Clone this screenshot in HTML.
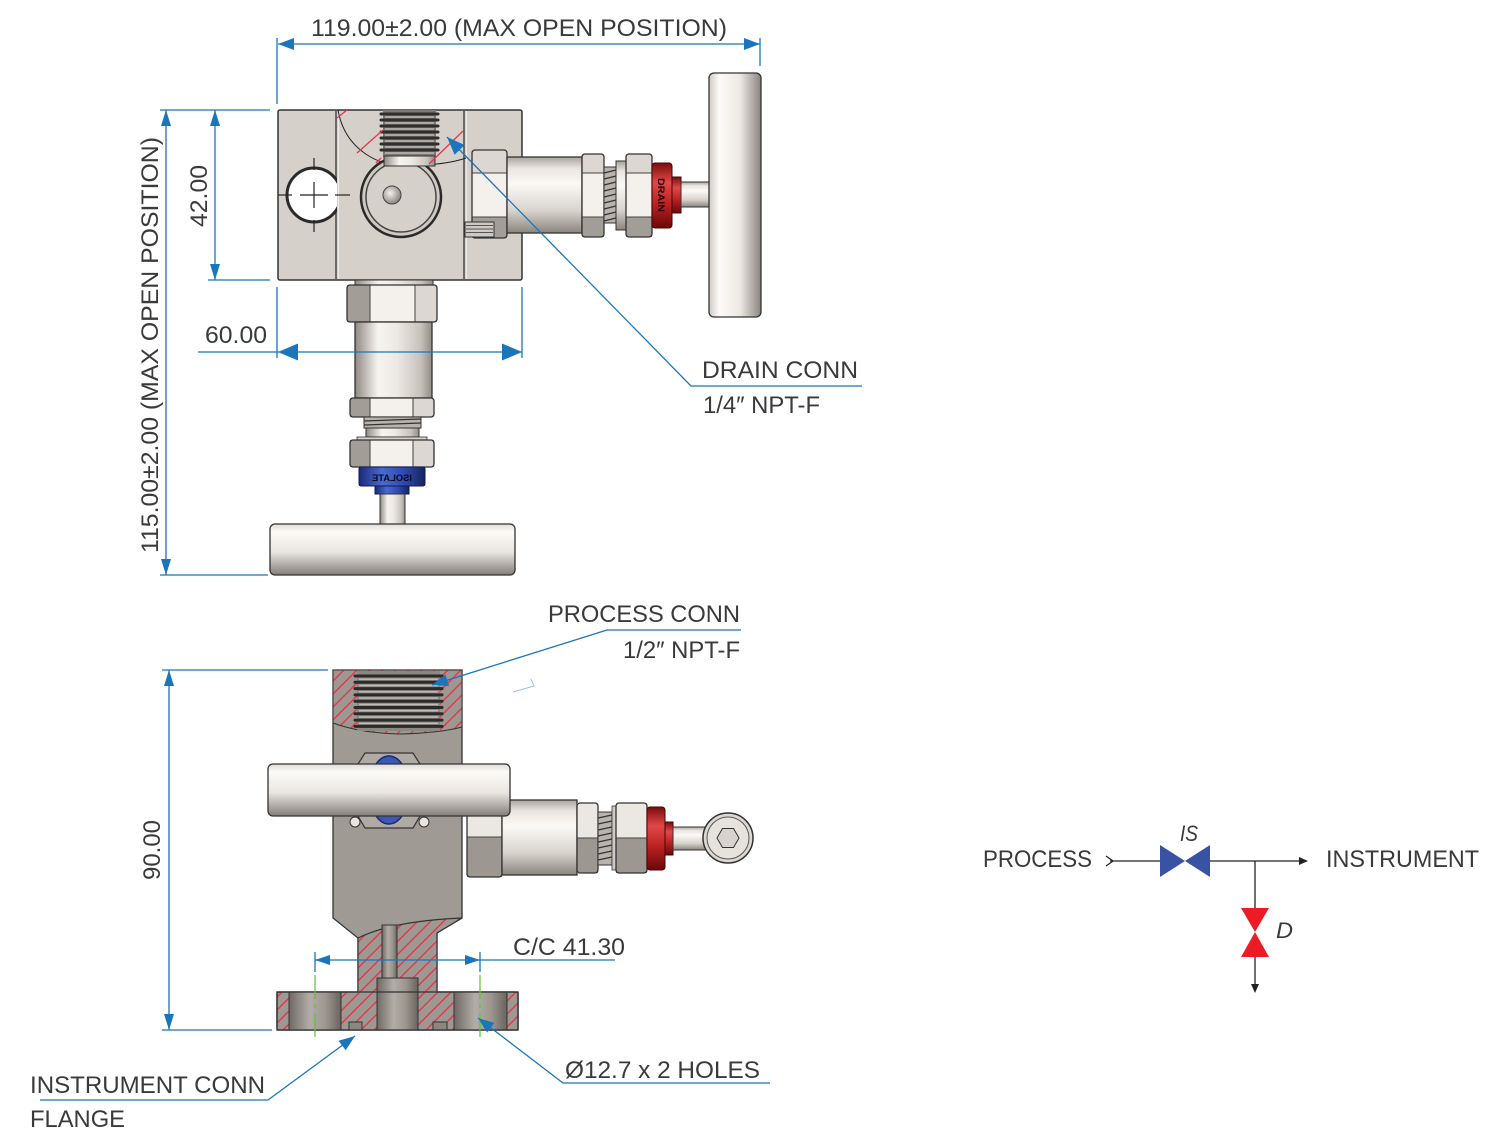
<!DOCTYPE html>
<html><head><meta charset="utf-8"><style>
html,body{margin:0;padding:0;background:#fff;}
svg{display:block;}
text{font-family:"Liberation Sans",sans-serif;fill:#3a3a3a;}
</style></head><body>
<svg xmlns="http://www.w3.org/2000/svg" width="1501" height="1143" viewBox="0 0 1501 1143">
<defs>
  <linearGradient id="gCylH" x1="0" y1="0" x2="0" y2="1">
    <stop offset="0" stop-color="#a9a39d"/><stop offset="0.15" stop-color="#e9e5e0"/>
    <stop offset="0.35" stop-color="#fbf9f6"/><stop offset="0.7" stop-color="#d9d4ce"/>
    <stop offset="1" stop-color="#8a847e"/>
  </linearGradient>
  <linearGradient id="gCylV" x1="0" y1="0" x2="1" y2="0">
    <stop offset="0" stop-color="#8f8983"/><stop offset="0.3" stop-color="#f7f4f0"/>
    <stop offset="0.55" stop-color="#ece8e3"/><stop offset="0.85" stop-color="#c8c2bc"/>
    <stop offset="1" stop-color="#928c86"/>
  </linearGradient>
  <linearGradient id="gHandleV" x1="0" y1="0" x2="1" y2="0">
    <stop offset="0" stop-color="#cfcac5"/><stop offset="0.2" stop-color="#fdfbf8"/>
    <stop offset="0.6" stop-color="#ece8e3"/><stop offset="1" stop-color="#8a847e"/>
  </linearGradient>
  <linearGradient id="gHandleH" x1="0" y1="0" x2="0" y2="1">
    <stop offset="0" stop-color="#e0dcd7"/><stop offset="0.15" stop-color="#fdfbf8"/>
    <stop offset="0.55" stop-color="#e9e5e0"/><stop offset="1" stop-color="#847e79"/>
  </linearGradient>
  <linearGradient id="gRedH" x1="0" y1="0" x2="0" y2="1">
    <stop offset="0" stop-color="#7a0d0d"/><stop offset="0.3" stop-color="#e04848"/>
    <stop offset="0.6" stop-color="#c02424"/><stop offset="1" stop-color="#6a0808"/>
  </linearGradient>
  <linearGradient id="gBlueV" x1="0" y1="0" x2="1" y2="0">
    <stop offset="0" stop-color="#1a2a78"/><stop offset="0.35" stop-color="#4a6ad0"/>
    <stop offset="0.7" stop-color="#2d48ae"/><stop offset="1" stop-color="#16245e"/>
  </linearGradient>
  <linearGradient id="gGrayV" x1="0" y1="0" x2="1" y2="0">
    <stop offset="0" stop-color="#6f6964"/><stop offset="0.4" stop-color="#b3ada7"/>
    <stop offset="0.7" stop-color="#9c968f"/><stop offset="1" stop-color="#6a645f"/>
  </linearGradient>
  <radialGradient id="gPin" cx="0.4" cy="0.4" r="0.6">
    <stop offset="0" stop-color="#f4f1ed"/><stop offset="1" stop-color="#8c8681"/>
  </radialGradient>
  <pattern id="hatch" patternUnits="userSpaceOnUse" width="13" height="13">
    <rect width="13" height="13" fill="#9e9892"/>
    <path d="M-1,14 L14,-1 M-1,1 L1,-1 M12,14 L14,12" stroke="#e8344c" stroke-width="1.4"/>
  </pattern>
  <clipPath id="clipHole"><rect x="278" y="150" width="59" height="90"/></clipPath>
</defs>

<!-- ================= TOP VIEW ================= -->
<!-- body -->
<rect x="278" y="110" width="244" height="170" rx="2" fill="#d6d0cb" stroke="#333" stroke-width="1.5"/>
<line x1="336" y1="111" x2="336" y2="279" stroke="#333" stroke-width="1.3"/>
<line x1="338.5" y1="111" x2="338.5" y2="279" stroke="#f0ece8" stroke-width="1"/>
<line x1="464" y1="111" x2="464" y2="279" stroke="#333" stroke-width="1.3"/>
<line x1="466.5" y1="111" x2="466.5" y2="279" stroke="#f0ece8" stroke-width="1"/>
<!-- section arc -->
<path d="M338,110 C345,150 380,168 410,166 C435,165 455,162 466,158" fill="none" stroke="#222" stroke-width="1"/>
<!-- left hole -->
<g clip-path="url(#clipHole)">
  <circle cx="314" cy="195" r="27" fill="#fff" stroke="#2a2a2a" stroke-width="3"/>
</g>
<g stroke="#222" stroke-width="1.2">
  <line x1="278" y1="195" x2="292" y2="195"/><line x1="300" y1="195" x2="328" y2="195"/><line x1="335" y1="195" x2="350" y2="195"/>
  <line x1="314" y1="158" x2="314" y2="170"/><line x1="314" y1="182" x2="314" y2="208"/><line x1="314" y1="220" x2="314" y2="232"/>
</g>
<!-- big circle -->
<circle cx="401" cy="197" r="40" fill="#cfc9c4" stroke="#2a2a2a" stroke-width="2.5"/>
<circle cx="401" cy="197" r="35" fill="#d6d0cb" stroke="#444" stroke-width="1.5"/>
<circle cx="392" cy="195" r="9" fill="url(#gPin)" stroke="#444" stroke-width="1"/>
<!-- threaded stub -->
<rect x="383" y="110" width="53" height="47" fill="#7d7873"/>
<g stroke="#2e2e2e" stroke-width="3" stroke-linecap="round">
  <line x1="381" y1="114" x2="438" y2="114"/><line x1="381" y1="120" x2="438" y2="120"/>
  <line x1="381" y1="126" x2="438" y2="126"/><line x1="381" y1="132" x2="438" y2="132"/>
  <line x1="381" y1="138" x2="438" y2="138"/><line x1="381" y1="144" x2="438" y2="144"/>
  <line x1="381" y1="150" x2="438" y2="150"/>
</g>
<g stroke="#bdb8b3" stroke-width="1.4">
  <line x1="385" y1="117" x2="434" y2="117"/><line x1="385" y1="123" x2="434" y2="123"/>
  <line x1="385" y1="129" x2="434" y2="129"/><line x1="385" y1="135" x2="434" y2="135"/>
  <line x1="385" y1="141" x2="434" y2="141"/><line x1="385" y1="147" x2="434" y2="147"/>
  <line x1="385" y1="153" x2="434" y2="153"/>
</g>
<rect x="384" y="156" width="51" height="10" fill="url(#gCylV)" stroke="#333" stroke-width="1"/>
<!-- red hatch marks -->
<g stroke="#e8344c" stroke-width="1.3">
  <line x1="337" y1="118" x2="347" y2="110"/>
  <line x1="357" y1="153" x2="383" y2="130"/>
  <line x1="376" y1="163" x2="381" y2="158"/>
  <line x1="429" y1="164" x2="463" y2="131"/>
</g>

<!-- right assembly -->
<rect x="472" y="150" width="35" height="23" fill="#dcd7d2"/>
<rect x="472" y="173" width="35" height="44" fill="#f4f1ed"/>
<rect x="472" y="217" width="35" height="21" fill="#a39d97"/>
<line x1="472" y1="173" x2="507" y2="173" stroke="#444"/>
<line x1="472" y1="217" x2="507" y2="217" stroke="#444"/>
<rect x="472" y="150" width="35" height="88" rx="3" fill="none" stroke="#333" stroke-width="1.3"/>
<!-- knurl -->
<rect x="465" y="222" width="29" height="15" fill="#cdc8c3" stroke="#333" stroke-width="1"/>
<g stroke="#555" stroke-width="0.9">
  <line x1="466" y1="225.5" x2="493" y2="225.5"/><line x1="466" y1="229" x2="493" y2="229"/>
  <line x1="466" y1="232.5" x2="493" y2="232.5"/>
</g>
<rect x="507" y="157" width="75" height="76" fill="url(#gCylH)" stroke="#333" stroke-width="1.3"/>
<!-- hex2 -->
<rect x="582" y="154" width="22" height="19" fill="#dcd7d2"/>
<rect x="582" y="173" width="22" height="44" fill="#f4f1ed"/>
<rect x="582" y="217" width="22" height="20" fill="#a39d97"/>
<line x1="582" y1="173" x2="604" y2="173" stroke="#444"/>
<line x1="582" y1="217" x2="604" y2="217" stroke="#444"/>
<rect x="582" y="154" width="22" height="83" rx="3" fill="none" stroke="#333" stroke-width="1.3"/>
<!-- threads -->
<rect x="604" y="167" width="12" height="56" fill="#b9b3ad" stroke="#333"/>
<g stroke="#333" stroke-width="1.3">
  <line x1="604" y1="173" x2="616" y2="170"/><line x1="604" y1="179" x2="616" y2="176"/>
  <line x1="604" y1="185" x2="616" y2="182"/><line x1="604" y1="191" x2="616" y2="188"/>
  <line x1="604" y1="197" x2="616" y2="194"/><line x1="604" y1="203" x2="616" y2="200"/>
  <line x1="604" y1="209" x2="616" y2="206"/><line x1="604" y1="215" x2="616" y2="212"/>
  <line x1="604" y1="221" x2="616" y2="218"/>
</g>
<rect x="616" y="161" width="11" height="69" fill="url(#gCylH)" stroke="#333"/>
<!-- hex3 -->
<rect x="626" y="154" width="26" height="19" fill="#dcd7d2"/>
<rect x="626" y="173" width="26" height="44" fill="#f4f1ed"/>
<rect x="626" y="217" width="26" height="20" fill="#a39d97"/>
<line x1="626" y1="173" x2="652" y2="173" stroke="#444"/>
<line x1="626" y1="217" x2="652" y2="217" stroke="#444"/>
<rect x="626" y="154" width="26" height="83" rx="3" fill="none" stroke="#333" stroke-width="1.3"/>
<!-- red cap -->
<rect x="652" y="163" width="20" height="65" rx="3" fill="url(#gRedH)" stroke="#4a0505"/>
<text transform="translate(658,178) rotate(90)" font-size="9" font-weight="bold" style="fill:#200" textLength="34" lengthAdjust="spacingAndGlyphs">DRAIN</text>
<rect x="672" y="177" width="9" height="36" fill="url(#gRedH)" stroke="#4a0505"/>
<rect x="681" y="182" width="31" height="25" fill="url(#gCylH)" stroke="#333"/>
<!-- T handle vertical -->
<rect x="709" y="73" width="52" height="244" rx="5" fill="url(#gHandleV)" stroke="#333" stroke-width="1.3"/>

<!-- lower stem assembly -->
<rect x="355" y="280" width="78" height="7" fill="url(#gCylV)" stroke="#333"/>
<rect x="347" y="285" width="23" height="37" fill="#a39d97"/>
<rect x="370" y="285" width="45" height="37" fill="#f4f1ed"/>
<rect x="415" y="285" width="22" height="37" fill="#dcd7d2"/>
<line x1="370" y1="285" x2="370" y2="322" stroke="#444"/><line x1="415" y1="285" x2="415" y2="322" stroke="#444"/>
<rect x="347" y="285" width="90" height="37" rx="3" fill="none" stroke="#333" stroke-width="1.3"/>
<rect x="355" y="322" width="77" height="76" fill="url(#gCylV)" stroke="#333" stroke-width="1.3"/>
<rect x="350" y="398" width="20" height="19" fill="#a39d97"/>
<rect x="370" y="398" width="43" height="19" fill="#f4f1ed"/>
<rect x="413" y="398" width="21" height="19" fill="#dcd7d2"/>
<line x1="370" y1="398" x2="370" y2="417" stroke="#444"/><line x1="413" y1="398" x2="413" y2="417" stroke="#444"/>
<rect x="350" y="398" width="84" height="19" rx="3" fill="none" stroke="#333" stroke-width="1.3"/>
<rect x="364" y="417" width="57" height="11" fill="#b9b3ad" stroke="#333"/>
<g stroke="#333" stroke-width="1.3">
  <line x1="364" y1="421" x2="421" y2="419"/><line x1="364" y1="425" x2="421" y2="423"/>
</g>
<rect x="366" y="428" width="53" height="9" fill="url(#gCylV)" stroke="#333"/>
<rect x="357" y="437" width="70" height="3" fill="#d8d3ce" stroke="#333" stroke-width="0.8"/>
<rect x="350" y="440" width="20" height="27" fill="#a39d97"/>
<rect x="370" y="440" width="43" height="27" fill="#f4f1ed"/>
<rect x="413" y="440" width="21" height="27" fill="#dcd7d2"/>
<line x1="370" y1="440" x2="370" y2="467" stroke="#444"/><line x1="413" y1="440" x2="413" y2="467" stroke="#444"/>
<rect x="350" y="440" width="84" height="27" rx="3" fill="none" stroke="#333" stroke-width="1.3"/>
<rect x="359" y="467" width="66" height="19" rx="2" fill="url(#gBlueV)" stroke="#0f1a50"/>
<text transform="translate(392,481) scale(-1,1)" text-anchor="middle" font-size="9" font-weight="bold" style="fill:#0a0a20" textLength="40" lengthAdjust="spacingAndGlyphs">ISOLATE</text>
<rect x="375" y="486" width="34" height="8" fill="url(#gBlueV)" stroke="#0f1a50"/>
<rect x="380" y="494" width="25" height="33" fill="url(#gCylV)" stroke="#333"/>
<rect x="270" y="524" width="245" height="51" rx="5" fill="url(#gHandleH)" stroke="#333" stroke-width="1.3"/>

<!-- ============ TOP VIEW DIMENSIONS ============ -->
<g stroke="#1b75bb" stroke-width="1.3" fill="none">
  <line x1="278" y1="44" x2="760" y2="44"/>
  <line x1="277" y1="38" x2="277" y2="104"/>
  <line x1="760" y1="38" x2="760" y2="66"/>
  <line x1="166" y1="110" x2="166" y2="575"/>
  <line x1="160" y1="110" x2="270" y2="110"/>
  <line x1="160" y1="575" x2="268" y2="575"/>
  <line x1="215" y1="110" x2="215" y2="280"/>
  <line x1="208" y1="280" x2="270" y2="280"/>
  <line x1="198" y1="352" x2="522" y2="352"/>
  <line x1="277" y1="287" x2="277" y2="358"/>
  <line x1="522" y1="287" x2="522" y2="358"/>
  <polyline points="447,137 691,386 862,386"/>
</g>
<g fill="#1b75bb">
  <polygon points="278,44 294,38 294,50"/>
  <polygon points="760,44 744,38 744,50"/>
  <polygon points="166,110 161,126 171,126"/>
  <polygon points="166,575 161,559 171,559"/>
  <polygon points="215,110 210,126 220,126"/>
  <polygon points="215,280 210,264 220,264"/>
  <polygon points="278,352 298,343.5 298,360.5"/>
  <polygon points="522,352 502,343.5 502,360.5"/>
  <polygon points="447,137 464.6,145 454.6,154.8"/>
</g>
<text x="311" y="36" font-size="24" textLength="416" lengthAdjust="spacingAndGlyphs">119.00±2.00 (MAX OPEN POSITION)</text>
<text transform="translate(158,553) rotate(-90)" font-size="24" textLength="416" lengthAdjust="spacingAndGlyphs">115.00±2.00 (MAX OPEN POSITION)</text>
<text transform="translate(207,227) rotate(-90)" font-size="24" textLength="62" lengthAdjust="spacingAndGlyphs">42.00</text>
<text x="205" y="343" font-size="24" textLength="62" lengthAdjust="spacingAndGlyphs">60.00</text>
<text x="702" y="378" font-size="24" textLength="156" lengthAdjust="spacingAndGlyphs">DRAIN CONN</text>
<text x="703" y="413" font-size="24" textLength="117" lengthAdjust="spacingAndGlyphs">1/4″ NPT-F</text>

<!-- ================= SIDE / SECTION VIEW ================= -->
<!-- right assembly (behind handle) -->
<rect x="467" y="800" width="35" height="37" fill="#ebe7e2"/>
<rect x="467" y="837" width="35" height="40" fill="#9d9791"/>
<line x1="467" y1="837" x2="502" y2="837" stroke="#444"/>
<rect x="467" y="800" width="35" height="77" rx="3" fill="none" stroke="#333" stroke-width="1.3"/>
<rect x="502" y="800" width="75" height="75" fill="url(#gCylH)" stroke="#333" stroke-width="1.3"/>
<rect x="577" y="803" width="21" height="35" fill="#ebe7e2"/>
<rect x="577" y="838" width="21" height="35" fill="#9d9791"/>
<line x1="577" y1="838" x2="598" y2="838" stroke="#444"/>
<rect x="577" y="803" width="21" height="70" rx="3" fill="none" stroke="#333" stroke-width="1.3"/>
<rect x="598" y="812" width="14" height="53" fill="#b9b3ad" stroke="#333"/>
<g stroke="#333" stroke-width="1.3">
  <line x1="598" y1="818" x2="612" y2="815"/><line x1="598" y1="824" x2="612" y2="821"/>
  <line x1="598" y1="830" x2="612" y2="827"/><line x1="598" y1="836" x2="612" y2="833"/>
  <line x1="598" y1="842" x2="612" y2="839"/><line x1="598" y1="848" x2="612" y2="845"/>
  <line x1="598" y1="854" x2="612" y2="851"/><line x1="598" y1="860" x2="612" y2="857"/>
</g>
<rect x="612" y="806" width="4" height="64" fill="#d0cbc6" stroke="#333" stroke-width="0.8"/>
<rect x="616" y="803" width="31" height="35" fill="#ebe7e2"/>
<rect x="616" y="838" width="31" height="35" fill="#9d9791"/>
<line x1="616" y1="838" x2="647" y2="838" stroke="#444"/>
<rect x="616" y="803" width="31" height="70" rx="3" fill="none" stroke="#333" stroke-width="1.3"/>
<rect x="647" y="807" width="18" height="63" rx="3" fill="url(#gRedH)" stroke="#4a0505"/>
<rect x="665" y="822" width="8" height="33" fill="url(#gRedH)" stroke="#4a0505"/>
<rect x="673" y="827" width="34" height="23" fill="url(#gCylH)" stroke="#333"/>
<circle cx="728" cy="838" r="25" fill="#ddd8d3" stroke="#333" stroke-width="1.5"/>
<circle cx="728" cy="838" r="21" fill="#e6e2dd" stroke="#555" stroke-width="1"/>
<polygon points="739,838 733.5,847.5 722.5,847.5 717,838 722.5,828.5 733.5,828.5" fill="#d8d3ce" stroke="#333" stroke-width="1"/>

<!-- body -->
<path d="M333,670 H462 V918 L437,933 V992 H518 V1030 H277 V992 H358 V938 L333,918 Z" fill="#a09a94" stroke="#333" stroke-width="1.3"/>
<!-- upper hatched threaded block -->
<path d="M333,670 H462 V727 Q440,733 400,734 Q360,733 333,723 Z" fill="url(#hatch)" stroke="#333" stroke-width="1"/>
<rect x="357" y="671" width="83" height="60" fill="#8d8782"/>
<g stroke="#2b2b2b" stroke-width="3" stroke-linecap="round">
  <line x1="355" y1="676" x2="442" y2="676"/><line x1="355" y1="682.3" x2="442" y2="682.3"/>
  <line x1="355" y1="688.6" x2="442" y2="688.6"/><line x1="355" y1="694.9" x2="442" y2="694.9"/>
  <line x1="355" y1="701.2" x2="442" y2="701.2"/><line x1="355" y1="707.5" x2="442" y2="707.5"/>
  <line x1="355" y1="713.8" x2="442" y2="713.8"/><line x1="355" y1="720.1" x2="442" y2="720.1"/>
  <line x1="355" y1="726.4" x2="442" y2="726.4"/>
</g>
<g stroke="#c4beb8" stroke-width="1.4">
  <line x1="359" y1="679.2" x2="438" y2="679.2"/><line x1="359" y1="685.5" x2="438" y2="685.5"/>
  <line x1="359" y1="691.8" x2="438" y2="691.8"/><line x1="359" y1="698.1" x2="438" y2="698.1"/>
  <line x1="359" y1="704.4" x2="438" y2="704.4"/><line x1="359" y1="710.7" x2="438" y2="710.7"/>
  <line x1="359" y1="717" x2="438" y2="717"/><line x1="359" y1="723.3" x2="438" y2="723.3"/>
</g>
<!-- lower hatched section -->
<path d="M358,938 Q392,921 462,918 L437,933 V992 H518 V1030 H277 V992 H358 Z" fill="url(#hatch)" stroke="#333" stroke-width="1.2"/>
<rect x="289" y="992" width="52" height="38" fill="url(#gGrayV)" stroke="#333"/>
<rect x="454" y="992" width="53" height="38" fill="url(#gGrayV)" stroke="#333"/>
<rect x="382" y="925" width="15" height="53" fill="url(#gGrayV)" stroke="#333"/>
<rect x="377" y="978" width="41" height="52" fill="url(#gGrayV)" stroke="#333"/>
<rect x="349" y="1022" width="13" height="8" fill="#8c8680" stroke="#333"/>
<rect x="433" y="1022" width="14" height="8" fill="#8c8680" stroke="#333"/>
<rect x="277" y="992" width="241" height="38" rx="2" fill="none" stroke="#333" stroke-width="1.3"/>

<!-- blue nut behind handle -->
<polygon points="365,753 413,753 420,764 420,816 413,828 365,828 358,816 358,764" fill="#b0aaa4" stroke="#333" stroke-width="1.2"/>
<ellipse cx="389" cy="790" rx="20" ry="34" fill="#3b58b5" stroke="#1a2a70" stroke-width="1.5"/>
<circle cx="355" cy="822" r="5" fill="#e8e4df" stroke="#333"/>
<circle cx="424" cy="822" r="5" fill="#e8e4df" stroke="#333"/>
<!-- handle -->
<rect x="268" y="764" width="242" height="52" rx="5" fill="url(#gHandleH)" stroke="#333" stroke-width="1.3"/>

<!-- centerlines -->
<g stroke="#62c03c" stroke-width="1.2" stroke-dasharray="24 5 4 5">
  <line x1="315" y1="975" x2="315" y2="1042"/>
  <line x1="480" y1="975" x2="480" y2="1042"/>
</g>

<!-- ============ SECTION VIEW DIMENSIONS ============ -->
<g stroke="#1b75bb" stroke-width="1.3" fill="none">
  <line x1="169" y1="670" x2="169" y2="1030"/>
  <line x1="162" y1="670" x2="328" y2="670"/>
  <line x1="162" y1="1030" x2="272" y2="1030"/>
  <line x1="315" y1="960" x2="615" y2="960"/>
  <line x1="315" y1="952" x2="315" y2="972"/>
  <line x1="480" y1="952" x2="480" y2="972"/>
  <polyline points="432,685 607,630 741,630"/>
  <polyline points="355,1036 268,1100 40,1100"/>
  <polyline points="478,1018 563,1083 770,1083"/>
</g>
<polyline points="513,692 534,686 531,679" fill="none" stroke="#9cc0e4" stroke-width="1"/>
<g fill="#1b75bb">
  <polygon points="169,670 164,686 174,686"/>
  <polygon points="169,1030 164,1014 174,1014"/>
  <polygon points="315,960 330,955 330,965"/>
  <polygon points="480,960 465,955 465,965"/>
  <polygon points="432,685 449.1,685.9 445.5,674.5"/>
  <polygon points="355,1036 345.7,1050.3 338.5,1040.7"/>
  <polygon points="478,1018 494.3,1022.9 487.1,1032.5"/>
</g>
<text x="548" y="622" font-size="24" textLength="192" lengthAdjust="spacingAndGlyphs">PROCESS CONN</text>
<text x="623" y="658" font-size="24" textLength="117" lengthAdjust="spacingAndGlyphs">1/2″ NPT-F</text>
<text x="513" y="955" font-size="24" textLength="112" lengthAdjust="spacingAndGlyphs">C/C 41.30</text>
<text transform="translate(160,880) rotate(-90)" font-size="24" textLength="60" lengthAdjust="spacingAndGlyphs">90.00</text>
<text x="30" y="1093" font-size="24" textLength="235" lengthAdjust="spacingAndGlyphs">INSTRUMENT CONN</text>
<text x="30" y="1127" font-size="24" textLength="95" lengthAdjust="spacingAndGlyphs">FLANGE</text>
<text x="565" y="1078" font-size="24" textLength="195" lengthAdjust="spacingAndGlyphs">Ø12.7 x 2 HOLES</text>

<!-- ================= SCHEMATIC ================= -->
<g stroke="#222" stroke-width="1.3" fill="none">
  <polyline points="1106,856 1113,861 1106,866"/>
  <line x1="1110" y1="861" x2="1160" y2="861"/>
  <line x1="1210" y1="861" x2="1300" y2="861"/>
  <line x1="1255" y1="861" x2="1255" y2="908"/>
  <line x1="1255" y1="957" x2="1255" y2="985"/>
</g>
<polygon points="1308,861 1299,857 1299,865" fill="#222"/>
<polygon points="1255,993 1251,984 1259,984" fill="#222"/>
<polygon points="1160,845 1185,861 1160,877" fill="#3953a4"/>
<polygon points="1210,845 1185,861 1210,877" fill="#3953a4"/>
<polygon points="1241,908 1269,908 1255,932" fill="#ed1c24"/>
<polygon points="1241,957 1269,957 1255,932" fill="#ed1c24"/>
<text x="983" y="867" font-size="24" textLength="109" lengthAdjust="spacingAndGlyphs">PROCESS</text>
<text x="1326" y="867" font-size="24" textLength="153" lengthAdjust="spacingAndGlyphs">INSTRUMENT</text>
<text x="1180" y="841" font-size="22" font-style="italic" textLength="18" lengthAdjust="spacingAndGlyphs">IS</text>
<text x="1276" y="938" font-size="22" font-style="italic" textLength="17" lengthAdjust="spacingAndGlyphs">D</text>
</svg>
</body></html>
